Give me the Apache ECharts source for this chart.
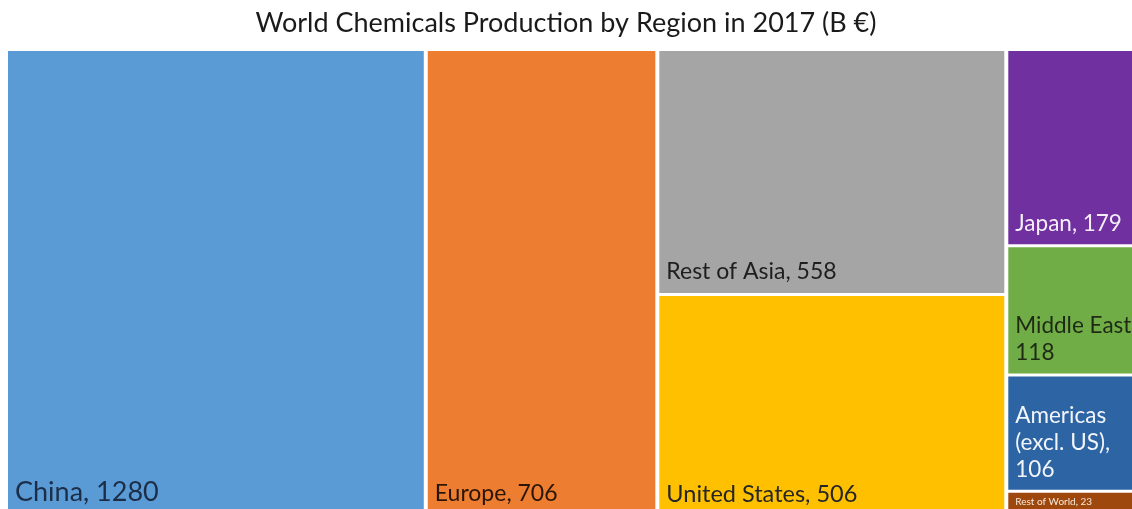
<!DOCTYPE html>
<html>
<head>
<meta charset="utf-8">
<script src="https://cdn.jsdelivr.net/npm/echarts@6/dist/echarts.min.js"></script>
<style>
html,body{margin:0;padding:0;background:#fff;}
#chart{width:1132px;height:509px;}
</style>
</head>
<body>
<div id="chart"></div>
<script>
// Data
var title = 'World Chemicals Production by Region in 2017 (B €)';
var regions = ['China', 'Europe', 'Rest of Asia', 'United States', 'Japan', 'Middle East', 'Americas (excl. US)', 'Rest of World'];
var values = [1280, 706, 558, 506, 179, 118, 106, 23];
// label text as printed (line breaks as in the reference)
var labelTexts = ['China, 1280', 'Europe, 706', 'Rest of Asia, 558', 'United States, 506', 'Japan, 179', 'Middle East,\n118', 'Americas\n(excl. US),\n106', 'Rest of World, 23'];
// grouping of regions into blocks (indices)
var groups = [[0], [1], [2, 3], [4, 5, 6, 7]];

var colors = ['#5B9BD5', '#ED7D31', '#A5A5A5', '#FFC000', '#7030A0', '#70AD47', '#2C64A4', '#9E480E'];
var labelColors = ['#1c2e47', '#2a1608', '#1e1e1e', '#262626', '#f4eef8', '#1e2a14', '#f2f5fa', '#f6e8dc'];
var labelSizes = [27, 23, 23, 23.5, 22.5, 22.5, 22.5, 10];

function leaf(i) {
  return {
    name: regions[i],
    value: values[i],
    itemStyle: { color: colors[i] },
    label: {
      formatter: labelTexts[i],
      color: labelColors[i],
      fontSize: labelSizes[i],
      lineHeight: Math.round(labelSizes[i] * 1.2)
    }
  };
}

var data = groups.map(function (g, k) {
  if (g.length === 1) return leaf(g[0]);
  var sum = 0, ch = [];
  g.forEach(function (i) { sum += values[i]; ch.push(leaf(i)); });
  return { name: 'group' + k, value: sum, children: ch };
});

var chart = echarts.init(document.getElementById('chart'), null, { renderer: 'canvas' });
chart.setOption({
  backgroundColor: '#ffffff',
  animation: false,
  title: {
    text: title,
    left: 'center',
    top: 5,
    textStyle: { fontFamily: 'Lato', fontWeight: 'normal', fontSize: 27, color: '#1a1a1a' }
  },
  series: [{
    type: 'treemap',
    left: 8,
    top: 51,
    width: 1136,
    height: 464,
    roam: false,
    nodeClick: false,
    sort: false,
    squareRatio: 1,
    breadcrumb: { show: false },
    upperLabel: { show: false },
    label: {
      show: true,
      position: 'insideBottomLeft',
      distance: 2,
      fontFamily: 'Lato',
      overflow: 'none'
    },
    itemStyle: { borderWidth: 0, gapWidth: 0, borderColor: '#fff' },
    levels: [
      { itemStyle: { borderWidth: 0, gapWidth: 4 } },
      { itemStyle: { borderWidth: 0, gapWidth: 3 } },
      { itemStyle: { borderWidth: 0, gapWidth: 0 } }
    ],
    data: data
  }]
});
</script>
</body>
</html>
